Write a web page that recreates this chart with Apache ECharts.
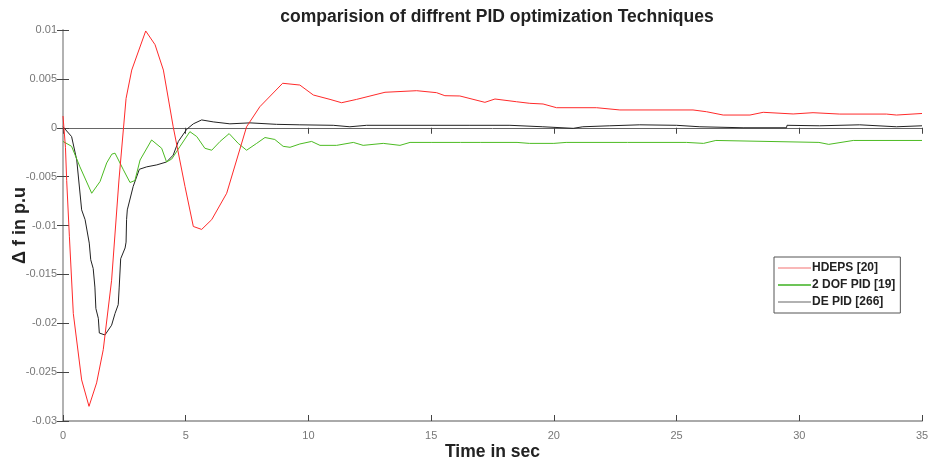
<!DOCTYPE html>
<html>
<head>
<meta charset="utf-8">
<script src="https://cdn.jsdelivr.net/npm/echarts@6/dist/echarts.min.js"></script>
<style>
  html, body { margin: 0; padding: 0; background: #fff; }
  #chart { width: 938px; height: 463px; }
</style>
</head>
<body>
<div id="chart"></div>
<script>
var myChart = echarts.init(document.getElementById('chart'));

// time (sec) and delta f (p.u)
var hdepsT = [0, 0.1, 0.15, 0.26, 0.42, 0.76, 1.06, 1.37, 1.64, 1.98, 2.28, 2.57, 2.80, 3.37, 3.75, 4.09, 4.49, 4.97, 5.31, 5.65, 6.06, 6.67, 7.48, 8.02, 8.95, 9.65, 10.20, 10.88, 11.35, 11.96, 13.12, 14.41, 15.22, 15.56, 16.17, 17.19, 17.60, 18.48, 19.02, 19.56, 20.11, 21.74, 22.69, 25.67, 26.22, 26.90, 27.99, 28.53, 29.75, 30.56, 31.65, 33.55, 33.96, 35];
var hdepsV = [0.0012, -0.002, -0.0054, -0.0111, -0.019, -0.0258, -0.0285, -0.0261, -0.0227, -0.0156, -0.00535, 0.0030, 0.0059, 0.0099, 0.0085, 0.0059, 0.0001, -0.0060, -0.0101, -0.0104, -0.0094, -0.0067, 0.0001, 0.00215, 0.00455, 0.00437, 0.00335, 0.0029, 0.00256, 0.0029, 0.00363, 0.00379, 0.00359, 0.00328, 0.00325, 0.0026, 0.00294, 0.00266, 0.0025, 0.00243, 0.00205, 0.00205, 0.00182, 0.00182, 0.00164, 0.0013, 0.0013, 0.00158, 0.00141, 0.00154, 0.0014, 0.0014, 0.0013, 0.00146];

var dofT = [0, 0.35, 0.69, 1.17, 1.51, 1.78, 1.99, 2.12, 2.46, 2.73, 2.93, 3.14, 3.61, 4.02, 4.22, 4.43, 4.77, 5.17, 5.45, 5.78, 6.06, 6.40, 6.77, 7.14, 7.48, 7.89, 8.23, 8.63, 8.97, 9.25, 9.65, 10.13, 10.47, 11.15, 11.83, 12.23, 13.05, 13.73, 14.14, 15.0, 16.2, 17.0, 18.5, 19.0, 20.0, 20.5, 23.0, 25.4, 26.1, 26.6, 30.8, 31.2, 32.2, 35];
var dofV = [-0.0014, -0.0019, -0.0040, -0.0067, -0.0055, -0.0036, -0.0027, -0.0026, -0.0043, -0.0056, -0.0054, -0.0033, -0.00125, -0.0021, -0.0035, -0.0032, -0.0019, -0.0004, -0.0009, -0.0021, -0.0023, -0.0014, -0.0006, -0.0016, -0.0023, -0.0016, -0.0010, -0.0012, -0.0019, -0.0020, -0.00166, -0.0014, -0.0018, -0.0018, -0.0015, -0.0018, -0.0016, -0.0018, -0.0015, -0.0015, -0.0015, -0.0015, -0.0015, -0.0016, -0.0016, -0.0015, -0.0015, -0.0015, -0.0016, -0.0013, -0.0015, -0.0017, -0.0013, -0.0013];

var deT = [0, 0.35, 0.56, 0.76, 0.90, 1.07, 1.13, 1.23, 1.30, 1.34, 1.44, 1.48, 1.71, 1.98, 2.12, 2.25, 2.29, 2.35, 2.53, 2.57, 2.59, 2.62, 2.86, 3.11, 3.41, 3.82, 4.22, 4.49, 4.70, 5.04, 5.31, 5.65, 6.12, 6.80, 7.62, 8.70, 9.65, 11.01, 11.69, 12.37, 16.58, 18.21, 19.55, 20.79, 21.18, 22.28, 23.5, 25.0, 25.95, 27.71, 29.48, 29.50, 30.83, 32.46, 33.96, 35];
var deV = [0.0001, -0.0009, -0.0033, -0.0084, -0.0094, -0.0118, -0.0135, -0.0144, -0.0163, -0.0185, -0.0195, -0.0210, -0.0212, -0.0202, -0.0190, -0.0181, -0.0163, -0.0134, -0.0123, -0.0117, -0.0094, -0.0084, -0.0060, -0.00425, -0.0040, -0.0038, -0.0035, -0.0028, -0.0014, -0.00016, 0.0004, 0.0008, 0.0006, 0.0004, 0.0005, 0.00035, 0.0003, 0.00025, 0.0001, 0.00025, 0.00025, 0.00025, 0.0001, -0.00006, 0.0001, 0.0002, 0.0003, 0.00025, 0.0001, 0.0, 0.0, 0.00025, 0.0002, 0.0003, 0.0001, 0.0002];

var seriesNames = ['HDEPS [20]', '2 DOF PID [19]', 'DE PID [266]'];
var seriesColors = ['#ff2a2a', '#4cbb22', '#222222'];
var legendColors = ['#f7a0a0', '#3cb020', '#999999'];

function zip(t, v) {
    return t.map(function (x, i) { return [x, v[i]]; });
}

var font = 'Liberation Sans, Arial, sans-serif';

var option = {
    animation: false,
    backgroundColor: '#fff',
    title: {
        text: 'comparision of diffrent PID optimization Techniques',
        left: 492,
        textAlign: 'center',
        top: 3,
        textStyle: { fontFamily: font, fontSize: 17.5, fontWeight: 'bold', color: '#222' }
    },
    legend: {
        orient: 'vertical',
        left: 774,
        top: 257,
        itemGap: 5,
        itemWidth: 33,
        itemHeight: 1.5,
        icon: 'rect',
        padding: [5, 5, 5, 4],
        borderColor: '#555',
        borderWidth: 1,
        backgroundColor: '#fff',
        textStyle: { fontFamily: font, fontSize: 12, fontWeight: 'bold', color: '#222', padding: [0, 0, 0, -4] },
        data: seriesNames.map(function (n, i) {
            return { name: n, icon: 'rect', itemStyle: { color: legendColors[i] } };
        })
    },
    grid: { left: 63, right: 16, top: 30, bottom: 42, containLabel: false, outerBoundsMode: 'none' },
    xAxis: [{
        type: 'value',
        min: 0, max: 35, interval: 5,
        name: 'Time in sec',
        nameLocation: 'middle',
        nameGap: 22,
        nameMoveOverlap: false,
        nameTextStyle: { fontFamily: font, fontSize: 17.5, fontWeight: 'bold', color: '#222' },
        axisLine: { onZero: false, lineStyle: { color: '#aaa', width: 2 } },
        axisTick: { inside: true, length: 6, lineStyle: { color: '#444' } },
        axisLabel: { fontFamily: font, fontSize: 11, color: '#777', margin: 9 },
        splitLine: { show: false }
    }, {
        type: 'value',
        position: 'top',
        min: 0, max: 35, interval: 5,
        axisLine: { lineStyle: { color: '#666' } },
        axisTick: { inside: true, length: 6, lineStyle: { color: '#444' } },
        axisLabel: { show: false },
        splitLine: { show: false }
    }],
    yAxis: [{
        type: 'value',
        min: -0.03, max: 0.01, interval: 0.005,
        name: '\u0394 f in p.u',
        nameLocation: 'middle',
        nameGap: 34,
        nameMoveOverlap: false,
        nameTextStyle: { fontFamily: font, fontSize: 18, fontWeight: 'bold', color: '#222' },
        axisLine: { show: true, onZero: false, lineStyle: { color: '#777', width: 1.5 } },
        axisTick: { show: true, inside: true, length: 6, lineStyle: { color: '#444' } },
        axisLabel: {
            fontFamily: font, fontSize: 11, color: '#777', margin: 6,
            formatter: function (v) { return String(+v.toFixed(3)); }
        },
        splitLine: { show: false }
    }, {
        type: 'value',
        position: 'right',
        min: -0.03, max: 0.01, interval: 0.005,
        axisLine: { show: true, lineStyle: { color: '#bbb', width: 1.5 } },
        axisTick: { show: true, inside: true, length: 6, lineStyle: { color: '#444' } },
        axisLabel: { show: false },
        splitLine: { show: false }
    }],
    series: [
        { name: seriesNames[0], type: 'line', data: zip(hdepsT, hdepsV) },
        { name: seriesNames[1], type: 'line', data: zip(dofT, dofV) },
        { name: seriesNames[2], type: 'line', data: zip(deT, deV) }
    ].map(function (s, i) {
        s.symbol = 'none';
        s.showSymbol = false;
        s.color = seriesColors[i];
        s.lineStyle = { color: seriesColors[i], width: 1 };
        s.z = 3 - i;
        return s;
    })
};

myChart.setOption(option);
</script>
</body>
</html>
